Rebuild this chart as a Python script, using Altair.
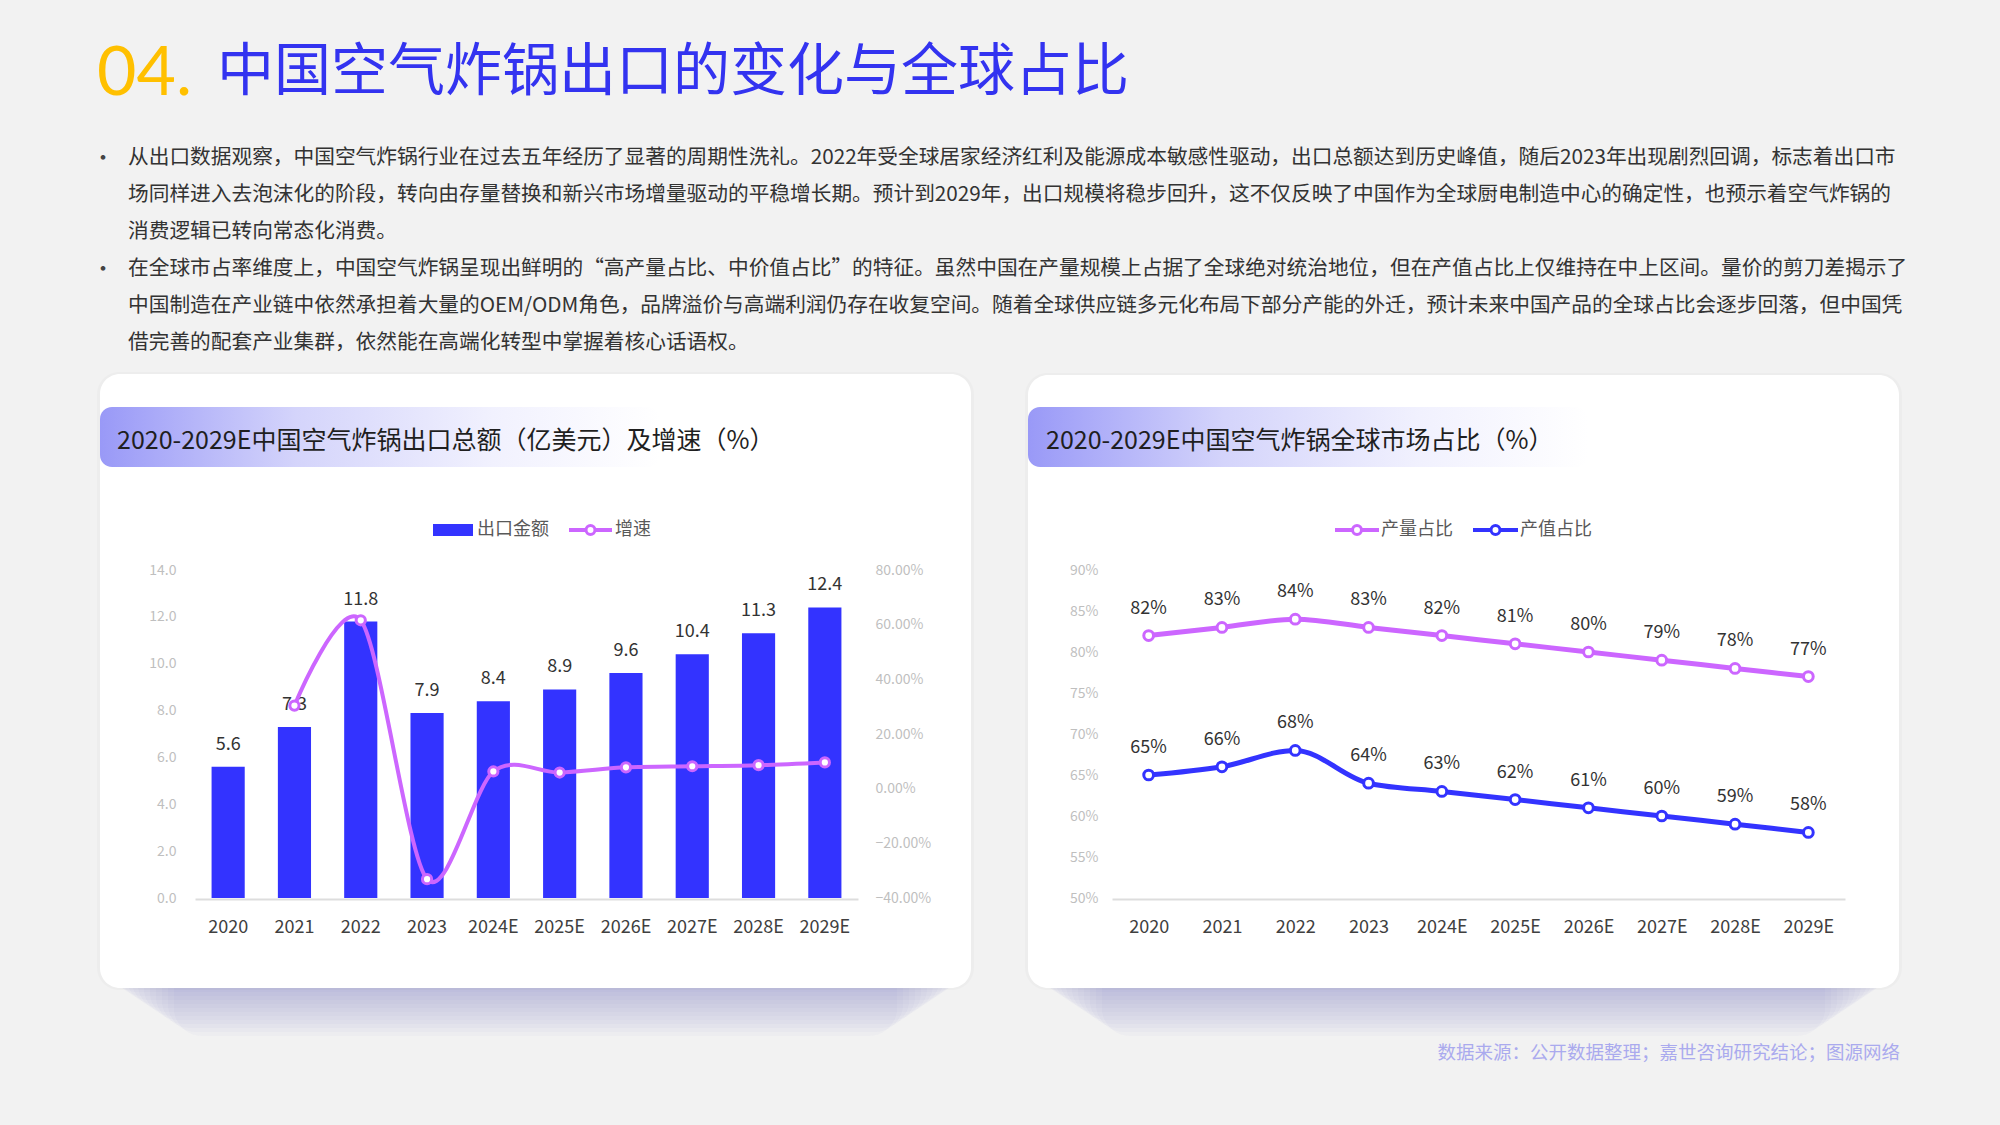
import altair as alt
import pandas as pd

FONT = "Noto Sans CJK SC"

# ---------------- text content ----------------
title_num = "04."
title_text = "中国空气炸锅出口的变化与全球占比"
para_lines = [
    "从出口数据观察，中国空气炸锅行业在过去五年经历了显著的周期性洗礼。2022年受全球居家经济红利及能源成本敏感性驱动，出口总额达到历史峰值，随后2023年出现剧烈回调，标志着出口市",
    "场同样进入去泡沫化的阶段，转向由存量替换和新兴市场增量驱动的平稳增长期。预计到2029年，出口规模将稳步回升，这不仅反映了中国作为全球厨电制造中心的确定性，也预示着空气炸锅的",
    "消费逻辑已转向常态化消费。",
    "在全球市占率维度上，中国空气炸锅呈现出鲜明的“高产量占比、中价值占比”的特征。虽然中国在产量规模上占据了全球绝对统治地位，但在产值占比上仅维持在中上区间。量价的剪刀差揭示了",
    "中国制造在产业链中依然承担着大量的OEM/ODM角色，品牌溢价与高端利润仍存在收复空间。随着全球供应链多元化布局下部分产能的外迁，预计未来中国产品的全球占比会逐步回落，但中国凭",
    "借完善的配套产业集群，依然能在高端化转型中掌握着核心话语权。",
]
bullet_rows = [0, 3]
left_title = "2020-2029E中国空气炸锅出口总额（亿美元）及增速（%）"
right_title = "2020-2029E中国空气炸锅全球市场占比（%）"
left_legend = ["出口金额", "增速"]
series_names = ["产量占比", "产值占比"]
footer_text = "数据来源：公开数据整理；嘉世咨询研究结论；图源网络"

# ---------------- data ----------------
years = ["2020", "2021", "2022", "2023", "2024E", "2025E", "2026E", "2027E", "2028E", "2029E"]
export_value = [5.6, 7.3, 11.8, 7.9, 8.4, 8.9, 9.6, 10.4, 11.3, 12.4]
growth_rate = [None, 30.4, 61.6, -33.1, 6.3, 5.9, 7.8, 8.2, 8.6, 9.6]
volume_share = [82, 83, 84, 83, 82, 81, 80, 79, 78, 77]
value_share = [65, 66, 68, 64, 63, 62, 61, 60, 59, 58]

left_y_ticks = [0, 2, 4, 6, 8, 10, 12, 14]
growth_ticks = [-40, -20, 0, 20, 40, 60, 80]
share_ticks = [50, 55, 60, 65, 70, 75, 80, 85, 90]

BLUE = "#3333FF"
PURPLE = "#CC66FF"
BG = "#F2F2F2"

df_left = pd.DataFrame({"year": years, "export": export_value, "growth": growth_rate})
df_right = pd.DataFrame({
    "year": years * 2,
    "series": [series_names[0]] * len(years) + [series_names[1]] * len(years),
    "share": volume_share + value_share,
})
dummy = pd.DataFrame({"d": [0]})


def box(x0, x1, y0, y1, **kw):
    return alt.Chart(dummy).mark_rect(**kw).encode(
        x=alt.value(x0), x2=alt.value(x1), y=alt.value(y0), y2=alt.value(y1)
    )


def label(txt, x, y, **kw):
    kw.setdefault("font", FONT)
    return alt.Chart(dummy).mark_text(text=txt, **kw).encode(x=alt.value(x), y=alt.value(y))


layers = []

# ---------------- cards with soft shadows ----------------
cards = [(100, 971, 374, 988), (1028, 1899, 375, 988)]
for (x0, x1, y0, y1) in cards:
    for k in range(1, 13):
        layers.append(box(x0 + 2 + 6 * k, x1 - 2 - 6 * k, y0 + 40, y1 + 4 * k,
                          fill="#6A6AB0", opacity=0.03, cornerRadius=28))
    layers.append(box(x0 - 3, x1 + 3, y0 - 2, y1 + 2, fill="#000000", opacity=0.02, cornerRadius=22))
    layers.append(box(x0, x1, y0, y1, fill="#FFFFFF", cornerRadius=20))

band_grad = alt.LinearGradient(
    gradient="linear",
    stops=[
        alt.GradientStop(color="#9999F7", offset=0),
        alt.GradientStop(color="#D4D4FB", offset=0.35),
        alt.GradientStop(color="#F1F1FE", offset=0.7),
        alt.GradientStop(color="#FFFFFF", offset=1),
    ],
    x1=0, x2=1, y1=0, y2=0,
)
layers.append(box(100, 660, 407, 467, fill=band_grad, cornerRadius=12))
layers.append(box(1028, 1588, 407, 467, fill=band_grad, cornerRadius=12))
layers.append(label(left_title, 117, 441, fontSize=25, color="#1F1F1F", align="left", baseline="middle"))
layers.append(label(right_title, 1046, 441, fontSize=25, color="#1F1F1F", align="left", baseline="middle"))

# ---------------- page title & paragraphs ----------------
layers.append(label(title_num, 97, 75, font="Lato", fontSize=68, color="#FFC000",
                    align="left", baseline="middle"))
layers.append(label(title_text, 217, 73, fontSize=57, color="#3333F0",
                    align="left", baseline="middle"))
for i, line in enumerate(para_lines):
    y = 158 + 37 * i
    if i in bullet_rows:
        layers.append(label("•", 103, y, fontSize=22, color="#444444", align="center", baseline="middle"))
    layers.append(label(line, 128, y, fontSize=20.7, color="#333333", align="left", baseline="middle"))

# ---------------- legends ----------------
layers.append(box(433, 473, 524, 536, fill=BLUE))
layers.append(label(left_legend[0], 477, 530, fontSize=18, color="#595959", align="left", baseline="middle"))
legend_lines = [(569, 612, PURPLE, left_legend[1], 615),
                (1335, 1379, PURPLE, series_names[0], 1381),
                (1473, 1518, BLUE, series_names[1], 1520)]
for (a, b, c, t, tx) in legend_lines:
    layers.append(alt.Chart(dummy).mark_rule(stroke=c, strokeWidth=4).encode(
        x=alt.value(a), x2=alt.value(b), y=alt.value(530)))
    layers.append(alt.Chart(dummy).mark_point(shape="circle", size=80, filled=True, fill="#FFFFFF",
                                              stroke=c, strokeWidth=3, opacity=1).encode(
        x=alt.value((a + b) / 2), y=alt.value(530)))
    layers.append(label(t, tx, 530, fontSize=18, color="#595959", align="left", baseline="middle"))

# ---------------- left chart ----------------
lx_band = alt.Scale(type="band", domain=years, range=[195, 858], paddingInner=0.5, paddingOuter=0.25)
lx_point = alt.Scale(type="point", domain=years, range=[195, 858], padding=0.5)
ly = alt.Scale(domain=[0, 14], range=[898, 570], nice=False, zero=True)
gy = alt.Scale(domain=[-40, 80], range=[898, 570], nice=False, zero=False)

x_axis_common = dict(title=None, labelAngle=0, labelFont=FONT, labelFontSize=18, labelColor="#404040",
                     ticks=False, tickSize=0, labelPadding=19, domainColor="#DDDDDD", domainWidth=2,
                     grid=False, orient="bottom", offset=-226, zindex=1)
y_axis_common = dict(title=None, labelFont=FONT, labelFontSize=14, labelColor="#BFBFBF",
                     domain=False, ticks=False, tickSize=0, grid=False, zindex=1)

bars = alt.Chart(df_left).mark_bar(color=BLUE).encode(
    x=alt.X("year:N", scale=lx_band, axis=alt.Axis(**x_axis_common), sort=years),
    y=alt.Y("export:Q", scale=ly, axis=alt.Axis(orient="left", offset=-195, values=left_y_ticks,
                                                 format=".1f", labelPadding=19, **y_axis_common)),
)
bar_labels = alt.Chart(df_left).mark_text(font=FONT, fontSize=18, color="#333333", baseline="alphabetic",
                                          dy=-17).encode(
    x=alt.X("year:N", scale=lx_point, axis=None, sort=years),
    y=alt.Y("export:Q", scale=ly, axis=None),
    text=alt.Text("export:Q", format=".1f"),
)
growth_line = alt.Chart(df_left).transform_filter("isValid(datum.growth)").mark_line(
    color=PURPLE, strokeWidth=4, interpolate="cardinal", tension=0.1).encode(
    x=alt.X("year:N", scale=lx_point, axis=None, sort=years),
    y=alt.Y("growth:Q", scale=gy, axis=alt.Axis(orient="right", offset=-1142, values=growth_ticks,
                                                 labelExpr="format(datum.value, '.2f') + '%'",
                                                 labelPadding=17, **y_axis_common)),
)
growth_pts = alt.Chart(df_left).transform_filter("isValid(datum.growth)").mark_point(
    shape="circle", size=85, filled=True, fill="#FFFFFF", stroke=PURPLE, strokeWidth=3, opacity=1).encode(
    x=alt.X("year:N", scale=lx_point, axis=None, sort=years),
    y=alt.Y("growth:Q", scale=gy, axis=None),
)

# ---------------- right chart ----------------
rx = alt.Scale(type="point", domain=years, range=[1112, 1845], padding=0.5)
ry = alt.Scale(domain=[50, 90], range=[898, 570], nice=False, zero=False)
stroke_scale = alt.Scale(domain=series_names, range=[PURPLE, BLUE])

share_lines = alt.Chart(df_right).mark_line(strokeWidth=5, interpolate="monotone").encode(
    x=alt.X("year:N", scale=rx, axis=alt.Axis(**x_axis_common), sort=years),
    y=alt.Y("share:Q", scale=ry, axis=alt.Axis(orient="left", offset=-1112, values=share_ticks,
                                                labelExpr="datum.value + '%'", labelPadding=14,
                                                **y_axis_common)),
    stroke=alt.Stroke("series:N", scale=stroke_scale, legend=None),
    detail="series:N",
)
share_pts = alt.Chart(df_right).mark_point(shape="circle", size=95, filled=True, fill="#FFFFFF",
                                           strokeWidth=3, opacity=1).encode(
    x=alt.X("year:N", scale=rx, axis=None, sort=years),
    y=alt.Y("share:Q", scale=ry, axis=None),
    stroke=alt.Stroke("series:N", scale=stroke_scale, legend=None),
)
share_labels = alt.Chart(df_right).transform_calculate(lbl="datum.share + '%'").mark_text(
    font=FONT, fontSize=18, color="#333333", baseline="alphabetic", dy=-22).encode(
    x=alt.X("year:N", scale=rx, axis=None, sort=years),
    y=alt.Y("share:Q", scale=ry, axis=None),
    text="lbl:N",
)

layers += [bars, bar_labels, growth_line, growth_pts, share_lines, share_pts, share_labels]

# ---------------- footer ----------------
layers.append(label(footer_text, 1900, 1053, fontSize=18.5, color="#AAAAEE", align="right", baseline="middle"))

chart = alt.layer(*layers).resolve_scale(x="independent", y="independent").properties(
    width=2000, height=1125, autosize=alt.AutoSizeParams(type="none"), padding=0,
).configure(background=BG).configure_view(stroke=None)

chart.save("out.html", embed_options={"renderer": "svg", "actions": False})
